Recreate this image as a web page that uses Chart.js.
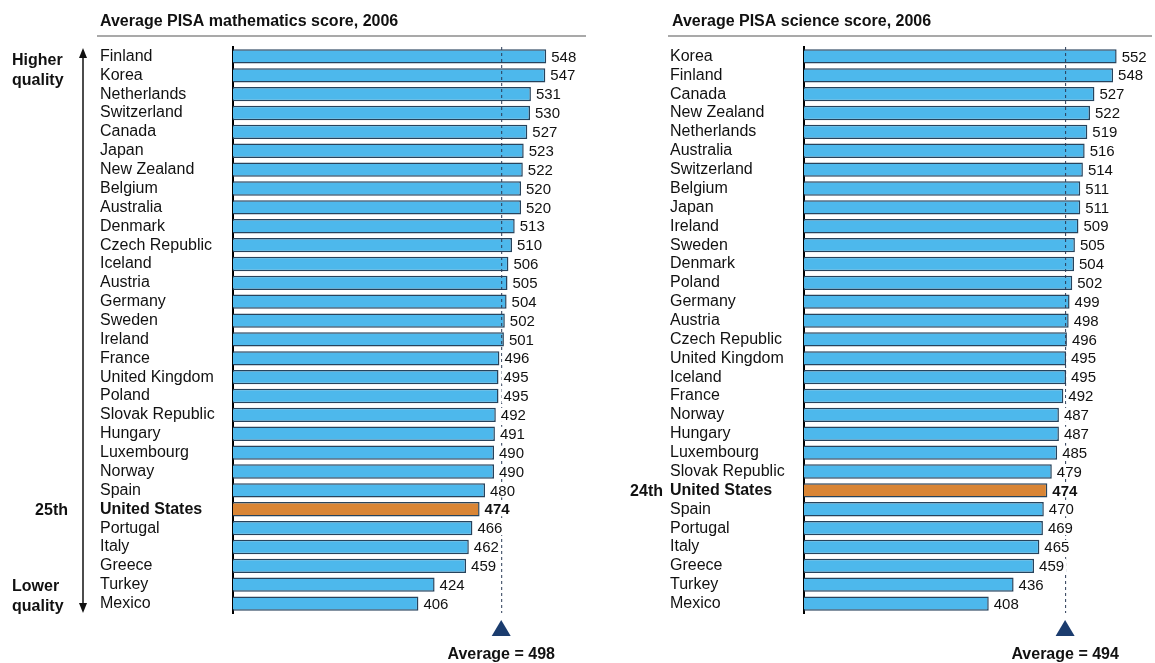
<!DOCTYPE html>
<html>
<head>
<meta charset="utf-8">
<script src="https://cdn.jsdelivr.net/npm/chart.js@4.4.1/dist/chart.umd.min.js"></script>
<style>
  body { margin: 0; background: #fff; }
  #wrap { position: relative; width: 1155px; height: 663px; }
  .box { position: absolute; top: 0; }
</style>
</head>
<body>
<div id="wrap">
  <div class="box" style="left:0"><canvas id="maths" width="600" height="663"></canvas></div>
  <div class="box" style="left:600px"><canvas id="science" width="555" height="663"></canvas></div>
</div>
<script>
const mathsCountries = ['Finland', 'Korea', 'Netherlands', 'Switzerland', 'Canada', 'Japan', 'New Zealand', 'Belgium', 'Australia', 'Denmark', 'Czech Republic', 'Iceland', 'Austria', 'Germany', 'Sweden', 'Ireland', 'France', 'United Kingdom', 'Poland', 'Slovak Republic', 'Hungary', 'Luxembourg', 'Norway', 'Spain', 'United States', 'Portugal', 'Italy', 'Greece', 'Turkey', 'Mexico'];
const mathsScores = [548, 547, 531, 530, 527, 523, 522, 520, 520, 513, 510, 506, 505, 504, 502, 501, 496, 495, 495, 492, 491, 490, 490, 480, 474, 466, 462, 459, 424, 406];
const mathsAverage = 498;

const scienceCountries = ['Korea', 'Finland', 'Canada', 'New Zealand', 'Netherlands', 'Australia', 'Switzerland', 'Belgium', 'Japan', 'Ireland', 'Sweden', 'Denmark', 'Poland', 'Germany', 'Austria', 'Czech Republic', 'United Kingdom', 'Iceland', 'France', 'Norway', 'Hungary', 'Luxembourg', 'Slovak Republic', 'United States', 'Spain', 'Portugal', 'Italy', 'Greece', 'Turkey', 'Mexico'];
const scienceScores = [552, 548, 527, 522, 519, 516, 514, 511, 511, 509, 505, 504, 502, 499, 498, 496, 495, 495, 492, 487, 487, 485, 479, 474, 470, 469, 465, 459, 436, 408];
const scienceAverage = 494;

const usLabel = 'United States';
const FONT = "'Liberation Sans', Arial, Helvetica, sans-serif";

// everything that is not a bar: average line, value labels, titles, side notes
const extras = {
    id: 'extras',
    afterDatasetsDraw(chart, args, o) {
        const ctx = chart.ctx;
        const xs = chart.scales.x;
        const ys = chart.scales.y;
        const area = chart.chartArea;
        const ax = xs.getPixelForValue(o.average);

        ctx.save();
        // dashed average line
        ctx.strokeStyle = '#2a3a55';
        ctx.lineWidth = 1;
        ctx.setLineDash([3, 3]);
        ctx.beginPath();
        ctx.moveTo(ax + 0.5, area.top);
        ctx.lineTo(ax + 0.5, area.bottom);
        ctx.stroke();
        ctx.setLineDash([]);

        // values at bar ends
        ctx.textBaseline = 'middle';
        ctx.textAlign = 'left';
        chart.getDatasetMeta(0).data.forEach((bar, i) => {
            const us = o.countries[i] === usLabel;
            ctx.font = (us ? 'bold ' : '') + '15px ' + FONT;
            const txt = String(o.scores[i]);
            const w = ctx.measureText(txt).width;
            ctx.fillStyle = '#fff';
            ctx.fillRect(bar.x + 3, bar.y - 7, w + 4, 14);
            ctx.fillStyle = '#111';
            ctx.fillText(txt, bar.x + 5, bar.y + 1);
        });

        // triangle + average label
        ctx.fillStyle = '#1b3c6e';
        ctx.beginPath();
        ctx.moveTo(ax, 620);
        ctx.lineTo(ax + 9.5, 636);
        ctx.lineTo(ax - 9.5, 636);
        ctx.closePath();
        ctx.fill();
        ctx.fillStyle = '#111';
        ctx.textAlign = 'center';
        ctx.font = 'bold 16px ' + FONT;
        ctx.fillText('Average = ' + o.average, ax, 655);

        // title + rule
        ctx.textAlign = 'left';
        ctx.textBaseline = 'alphabetic';
        ctx.font = 'bold 16px ' + FONT;
        ctx.fillText(o.title, o.titleX, 26);
        ctx.strokeStyle = '#8c8c8c';
        ctx.lineWidth = 1.5;
        ctx.beginPath();
        ctx.moveTo(o.ruleFrom, 36);
        ctx.lineTo(o.ruleTo, 36);
        ctx.stroke();
        ctx.textBaseline = 'middle';

        // rank of the US
        const usY = ys.getPixelForValue(o.countries.indexOf(usLabel));
        ctx.textAlign = 'right';
        ctx.font = 'bold 16px ' + FONT;
        ctx.fillText(o.rank, o.rankX, usY + 1);

        if (o.quality) {
            ctx.textAlign = 'left';
            ctx.fillText('Higher', 12, 61);
            ctx.fillText('quality', 12, 81);
            ctx.fillText('Lower', 12, 587);
            ctx.fillText('quality', 12, 607);
            // double arrow
            ctx.strokeStyle = '#111';
            ctx.lineWidth = 1.5;
            ctx.beginPath();
            ctx.moveTo(83, 56);
            ctx.lineTo(83, 604);
            ctx.stroke();
            ctx.fillStyle = '#111';
            ctx.beginPath();
            ctx.moveTo(83, 48); ctx.lineTo(87, 58); ctx.lineTo(79, 58);
            ctx.closePath(); ctx.fill();
            ctx.beginPath();
            ctx.moveTo(83, 613); ctx.lineTo(87, 603); ctx.lineTo(79, 603);
            ctx.closePath(); ctx.fill();
        }
        ctx.restore();
    }
};

function scoreChart(id, countries, scores, average, setup) {
    return new Chart(document.getElementById(id), {
        type: 'bar',
        data: {
            labels: countries,
            datasets: [{
                data: scores,
                backgroundColor: countries.map(c => c === usLabel ? '#d98535' : '#4db8ec'),
                borderColor: '#27435c',
                borderWidth: 1.5,
                barPercentage: 0.8,
                categoryPercentage: 0.95,
            }]
        },
        options: {
            indexAxis: 'y',
            responsive: false,
            animation: false,
            layout: {
                padding: { left: setup.padLeft, right: setup.padRight, top: 47, bottom: 50 }
            },
            scales: {
                x: { display: false, min: 200, max: 580 },
                y: {
                    grid: { display: false },
                    border: { display: true, color: '#000', width: 2 },
                    afterFit: scale => { scale.width = setup.labelWidth; },
                    ticks: {
                        autoSkip: false,
                        crossAlign: 'far',
                        color: '#111',
                        font: c => ({
                            family: FONT,
                            size: 16,
                            weight: countries[c.index] === usLabel ? 'bold' : 'normal'
                        })
                    }
                }
            },
            plugins: {
                legend: { display: false },
                tooltip: { enabled: false },
                extras: {
                    countries, scores, average,
                    title: setup.title, titleX: setup.titleX,
                    ruleFrom: setup.ruleFrom, ruleTo: setup.ruleTo,
                    rank: setup.rank, rankX: setup.rankX,
                    quality: setup.quality
                }
            }
        },
        plugins: [extras]
    });
}

scoreChart('maths', mathsCountries, mathsScores, mathsAverage, {
    padLeft: 100, labelWidth: 133, padRight: 25,
    title: 'Average PISA mathematics score, 2006', titleX: 100,
    ruleFrom: 97, ruleTo: 586, rank: '25th', rankX: 68, quality: true
});
scoreChart('science', scienceCountries, scienceScores, scienceAverage, {
    padLeft: 70, labelWidth: 134, padRight: 13.5,
    title: 'Average PISA science score, 2006', titleX: 72,
    ruleFrom: 68, ruleTo: 552, rank: '24th', rankX: 63, quality: false
});
</script>
</body>
</html>
